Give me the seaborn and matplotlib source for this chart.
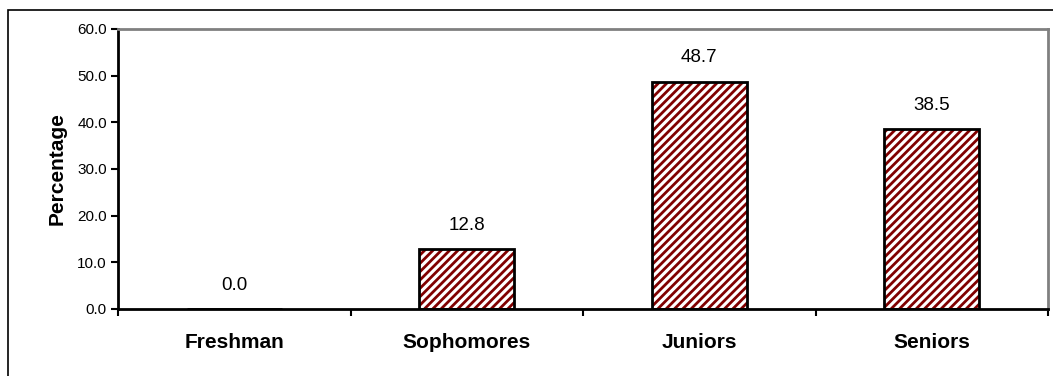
import matplotlib
matplotlib.use("Agg")
import matplotlib.pyplot as plt
import seaborn as sns
import pandas as pd
from matplotlib.patches import Rectangle

# Chart data
categories = ["Freshman", "Sophomores", "Juniors", "Seniors"]
percentages = [0.0, 12.8, 48.7, 38.5]
y_ticks = [0, 10, 20, 30, 40, 50, 60]

data = pd.DataFrame({"Class": categories, "Percentage": percentages})

sns.set_theme(style="white")
plt.rcParams["font.family"] = ["Liberation Sans", "DejaVu Sans"]
plt.rcParams["hatch.linewidth"] = 2.0
plt.rcParams["text.color"] = "black"
plt.rcParams["axes.labelcolor"] = "black"
plt.rcParams["xtick.color"] = "black"
plt.rcParams["ytick.color"] = "black"

fig = plt.figure(figsize=(10.53, 3.76), dpi=100)
ax = fig.add_axes([118 / 1053, 1 - 309 / 376, 930 / 1053, 280 / 376])

# hatched fill layer (hatch colour follows edgecolor)
sns.barplot(data=data, x="Class", y="Percentage", color="white",
            edgecolor="#800000", hatch="////", linewidth=0, width=0.41,
            saturation=1, ax=ax)
# black outline layer
sns.barplot(data=data, x="Class", y="Percentage", color="white",
            width=0.41, saturation=1, ax=ax)
for p in ax.patches[len(categories):]:
    p.set_facecolor("none")
    p.set_edgecolor("black")
    p.set_linewidth(2)

ax.bar_label(ax.containers[0], labels=[f"{v:.1f}" for v in percentages],
             padding=11, fontsize=13.5, color="black")

ax.set_xlim(-0.5, len(categories) - 0.5)
ax.set_ylim(0, 60)
ax.set_yticks(y_ticks)
ax.set_yticklabels([f"{t:.1f}" for t in y_ticks], fontsize=11)
ax.set_xticks(range(len(categories)))
ax.set_xticklabels(categories, fontsize=15, fontweight="bold")
ax.set_xticks([i - 0.5 for i in range(len(categories) + 1)], minor=True)
ax.tick_params(axis="x", which="major", length=0, pad=17)
ax.tick_params(axis="x", which="minor", length=5, width=1.5, color="black",
               direction="out", bottom=True)
ax.tick_params(axis="y", length=5, width=1.5, color="black",
               direction="out", left=True, pad=3)
ax.set_xlabel("")
ax.set_ylabel("Percentage", fontsize=15, fontweight="bold", labelpad=8)

for side in ["left", "bottom"]:
    ax.spines[side].set_color("black")
    ax.spines[side].set_linewidth(2)
for side in ["top", "right"]:
    ax.spines[side].set_color("#808080")
    ax.spines[side].set_linewidth(2)
    ax.spines[side].set_visible(True)

# outer chart frame
fig.patches.append(Rectangle((8 / 1053, -0.05), 1.1, 1 - 10 / 376 + 0.05,
                             transform=fig.transFigure, fill=False,
                             edgecolor="black", linewidth=1.2))

fig.savefig("out.png", dpi=100)
